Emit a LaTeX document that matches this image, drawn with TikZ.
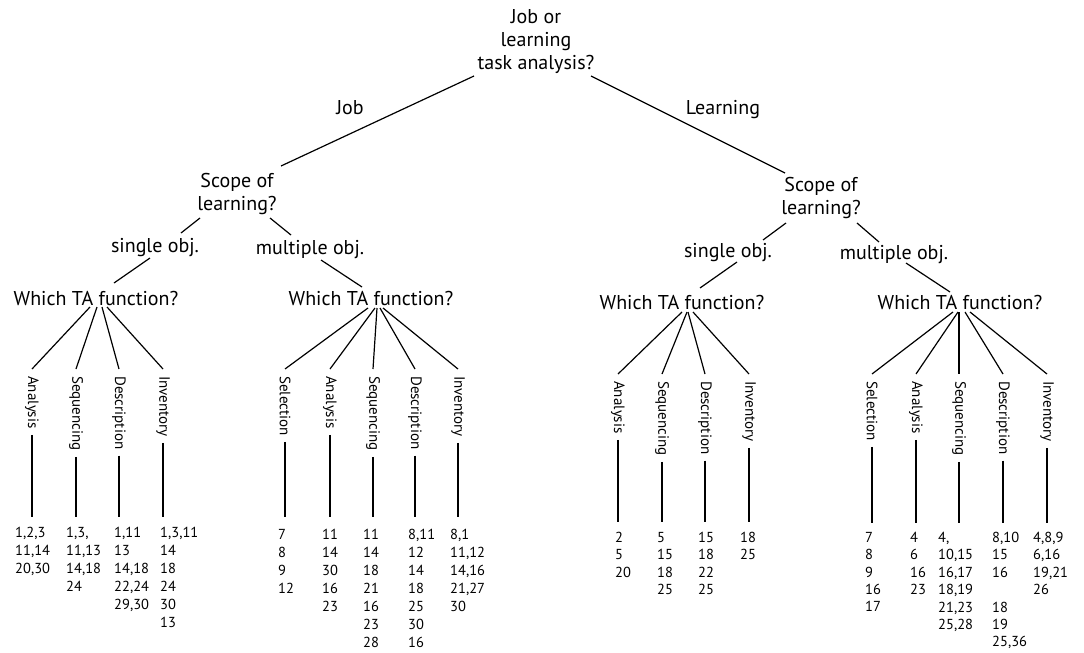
\documentclass[tikz,border=0pt]{standalone}
\usepackage{fontspec}
\setmainfont{PT Sans}
\begin{document}
\begin{tikzpicture}[x=1pt,y=-1pt,
  q/.style={font=\fontsize{20}{23}\selectfont, align=center, inner sep=0pt},
  lbl/.style={font=\fontsize{15}{18}\selectfont, rotate=-90, inner sep=0pt, anchor=west},
  nums/.style={font=\fontsize{14.5}{18}\selectfont, align=left, inner sep=0pt, anchor=north west},
  numsr/.style={nums, font=\fontsize{14.5}{17.4}\selectfont},
  ln/.style={line width=1.2pt}]
\useasboundingbox (0,0) rectangle (1084,653);

% question nodes
\node[q] (root) at (536,42) {Job or\\learning\\task analysis?};
\node[q] (scL) at (237,194) {Scope of\\learning?};
\node[q] (scR) at (821,198) {Scope of\\learning?};
\node[q] (sgL) at (155,248) {single obj.};
\node[q] (mlL) at (310,250) {multiple obj.};
\node[q] (sgR) at (728,253) {single obj.};
\node[q] (mlR) at (894,255) {multiple obj.};
\node[q] (w1) at (96,298) {Which TA function?};
\node[q] (w2) at (371,298) {Which TA function?};
\node[q] (w3) at (682,302) {Which TA function?};
\node[q] (w4) at (960,302) {Which TA function?};
\node[q] (job) at (350,108) {Job};
\node[q] (lrn) at (723,110) {Learning};

% upper branches
\draw[ln] ([shift={(-62,34)}]root.center) -- ([shift={(44,-28)}]scL.center);
\draw[ln] ([shift={(55,34)}]root.center) -- ([shift={(-36,-25)}]scR.center);
\draw[ln] ([shift={(-37,24)}]scL.center) -- ([shift={(26,-15)}]sgL.center);
\draw[ln] ([shift={(33,24)}]scL.center) -- ([shift={(-19,-15)}]mlL.center);
\draw[ln] ([shift={(-35,25)}]scR.center) -- ([shift={(35,-13)}]sgR.center);
\draw[ln] ([shift={(36,25)}]scR.center) -- ([shift={(-15,-13)}]mlR.center);
\draw[ln] ([shift={(-5,10)}]sgL.center) -- ([shift={(18,-15)}]w1.center);
\draw[ln] ([shift={(11,10)}]mlL.center) -- ([shift={(-9,-11)}]w2.center);
\draw[ln] ([shift={(9,9)}]sgR.center) -- ([shift={(18,-14)}]w3.center);
\draw[ln] ([shift={(12,8)}]mlR.center) -- ([shift={(-10,-10)}]w4.center);

% bottom ends of the stems
\coordinate (bot1) at (0,517);
\coordinate (bot2) at (0,517);
\coordinate (bot3) at (0,522);
\coordinate (bot4) at (0,523);

% group 1
\node[lbl] (g1a) at (32,376) {Analysis};
\node[lbl] (g1b) at (76,376) {Sequencing};
\node[lbl] (g1c) at (119,376) {Description};
\node[lbl] (g1d) at (163,376) {Inventory};
\foreach \n/\dx in {g1a/-6,g1b/1,g1c/6,g1d/11}{
  \draw[ln] ([shift={(\dx,9)}]w1.center) -- ([yshift=7pt]\n.west);
  \draw[ln] ([yshift=-6pt]\n.east) -- (\n.east |- bot1);
}
\node[nums] (n1a) at (15,527) {1,2,3\\11,14\\20,30};
\node[nums] (n1b) at (66,527) {1,3,\\11,13\\14,18\\24};
\node[nums] (n1c) at (114,527) {1,11\\13\\14,18\\22,24\\29,30};
\node[nums] (n1d) at (160,527) {1,3,11\\14\\18\\24\\30\\13};

% group 2
\node[lbl] (g2a) at (285,376) {Selection};
\node[lbl] (g2b) at (330,376) {Analysis};
\node[lbl] (g2c) at (373,376) {Sequencing};
\node[lbl] (g2d) at (415,376) {Description};
\node[lbl] (g2e) at (458,376) {Inventory};
\foreach \n/\dx in {g2a/-3,g2b/4,g2c/6,g2d/9,g2e/12}{
  \draw[ln] ([shift={(\dx,10)}]w2.center) -- ([yshift=7pt]\n.west);
  \draw[ln] ([yshift=-6pt]\n.east) -- (\n.east |- bot2);
}
\node[nums] (n2a) at (278,529) {7\\8\\9\\12};
\node[nums] (n2b) at (322,529) {11\\14\\30\\16\\23};
\node[nums] (n2c) at (363,529) {11\\14\\18\\21\\16\\23\\28};
\node[nums] (n2d) at (408,529) {8,11\\12\\14\\18\\25\\30\\16};
\node[nums] (n2e) at (450,529) {8,1\\11,12\\14,16\\21,27\\30};

% group 3
\node[lbl] (g3a) at (618,381) {Analysis};
\node[lbl] (g3b) at (662,381) {Sequencing};
\node[lbl] (g3c) at (705,381) {Description};
\node[lbl] (g3d) at (749,381) {Inventory};
\foreach \n/\dx in {g3a/0,g3b/5,g3c/6,g3d/11}{
  \draw[ln] ([shift={(\dx,10)}]w3.center) -- ([yshift=7pt]\n.west);
  \draw[ln] ([yshift=-6pt]\n.east) -- (\n.east |- bot3);
}
\node[numsr] (n3a) at (615,532) {2\\5\\20};
\node[numsr] (n3b) at (657,532) {5\\15\\18\\25};
\node[numsr] (n3c) at (698,532) {15\\18\\22\\25};
\node[numsr] (n3d) at (740,532) {18\\25};

% group 4
\node[lbl] (g4a) at (872,381) {Selection};
\node[lbl] (g4b) at (916,381) {Analysis};
\node[lbl] (g4c) at (959,381) {Sequencing};
\node[lbl] (g4d) at (1003,381) {Description};
\node[lbl] (g4e) at (1047,381) {Inventory};
\foreach \n/\dx in {g4a/-7,g4b/-2,g4c/-1,g4d/5,g4e/10}{
  \draw[ln] ([shift={(\dx,10)}]w4.center) -- ([yshift=7pt]\n.west);
  \draw[ln] ([yshift=-6pt]\n.east) -- (\n.east |- bot4);
}
\node[numsr] (n4a) at (865,532) {7\\8\\9\\16\\17};
\node[numsr] (n4b) at (910,532) {4\\6\\16\\23};
\node[numsr] (n4c) at (938,532) {4,\\10,15\\16,17\\18,19\\21,23\\25,28};
\node[numsr] (n4d) at (992,532) {8,10\\15\\16\\\mbox{}\\18\\19\\25,36};
\node[numsr] (n4e) at (1033,532) {4,8,9\\6,16\\19,21\\26};
\end{tikzpicture}
\end{document}
